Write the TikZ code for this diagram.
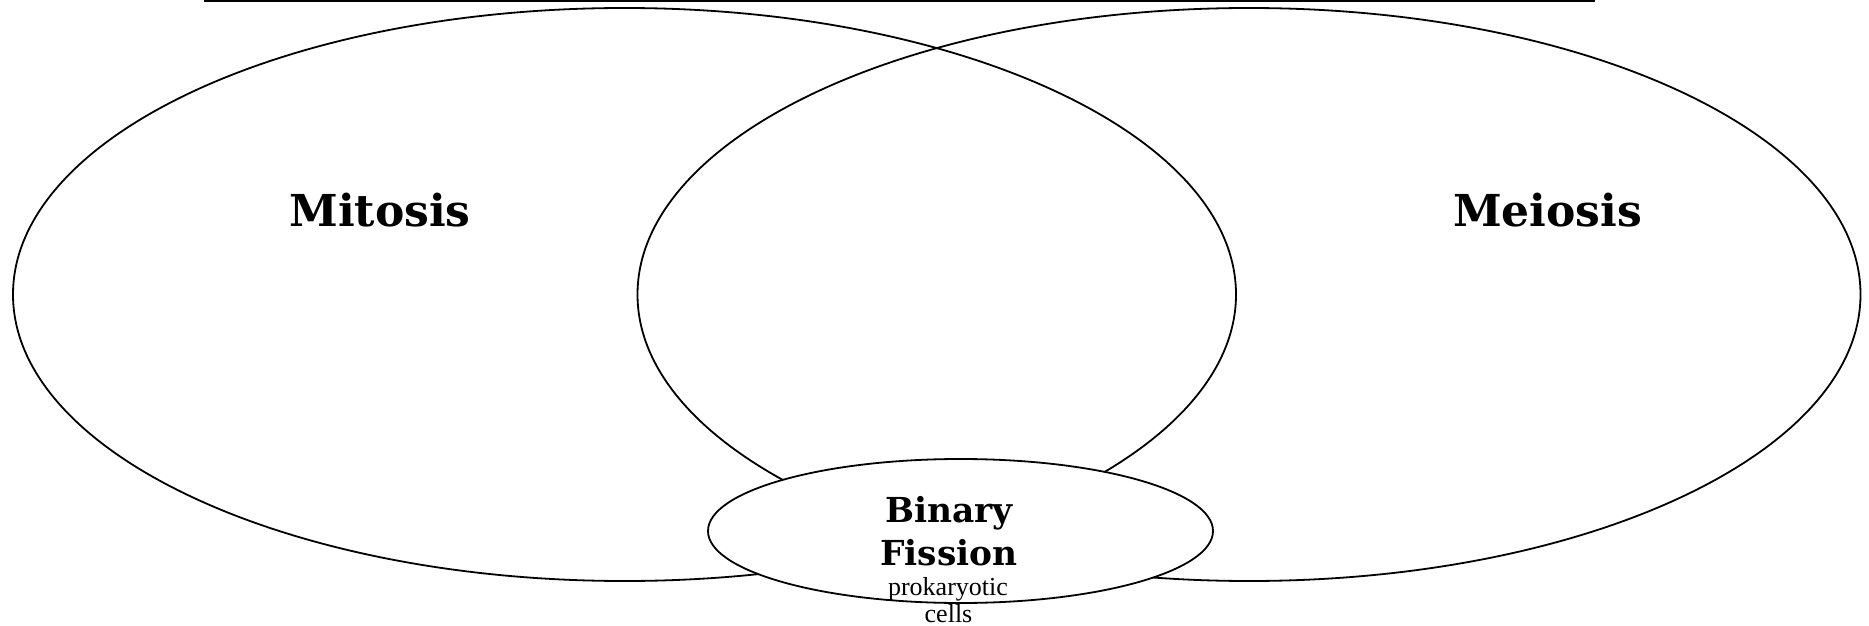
\documentclass[tikz,border=0pt]{standalone}
\usepackage{fontspec}
\setmainfont{Liberation Serif}
\newfontfamily\headfont{DejaVu Serif}
\usetikzlibrary{shapes.geometric}
\begin{document}
\begin{tikzpicture}[x=0.5pt,y=-0.5pt,
  venn/.style={draw, ellipse, line width=0.9pt, inner sep=0pt, outer sep=0pt},
  bigset/.style={venn, minimum width=611.5pt, minimum height=286.5pt},
  title/.style={font=\headfont\bfseries\fontsize{22}{26}\selectfont, anchor=base, inner sep=0pt},
  bftitle/.style={font=\headfont\bfseries\fontsize{17.2}{21.5}\selectfont, anchor=base, inner sep=0pt},
  note/.style={font=\fontsize{13}{13.5}\selectfont, anchor=base, inner sep=0pt}]
\useasboundingbox (0,0) rectangle (1869,626);
\coordinate (lineL) at (204,0.8);
\coordinate (lineR) at (1595,0.8);
\draw[line width=0.9pt] (lineL) -- (lineR);
\node[bigset] (mitosisset) at (624.5,294.5) {};
\node[bigset] (meiosisset) at (1249,294.5) {};
\node[venn, fill=white, minimum width=252.5pt, minimum height=72pt] (bfset) at (960.5,531) {};
\node[title] (mitosis) at (380,227) {Mitosis};
\node[title] (meiosis) at (1547.5,227) {Meiosis};
\node[bftitle] (binary) at (949,522) {Binary};
\node[bftitle] (fission) at (949,565) {Fission};
\node[note] (prok) at (948,595) {prokaryotic};
\node[note] (cells) at (948.5,622) {cells};
\end{tikzpicture}
\end{document}
